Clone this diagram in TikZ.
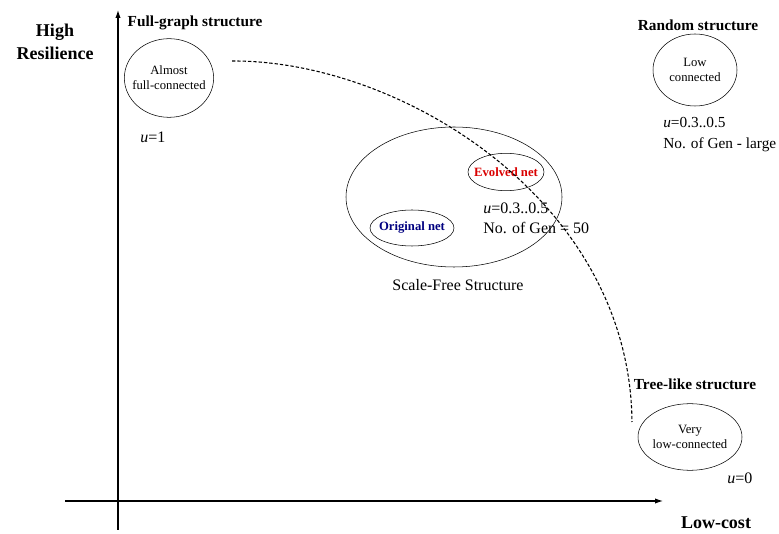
\documentclass[tikz,border=0pt]{standalone}
\usepackage{fontspec}
\setmainfont{Liberation Serif}
\usetikzlibrary{shapes.geometric,arrows.meta}

\begin{document}
\begin{tikzpicture}[x=0.75pt,y=-0.75pt,
    title/.style={font=\bfseries\fontsize{11.5}{13}\selectfont},
    axislab/.style={font=\bfseries\fontsize{13.5}{17}\selectfont},
    net/.style={draw,ellipse,inner sep=0pt},
    nettext/.style={align=center,inner sep=0pt,font=\fontsize{9.5}{11.5}\selectfont},
    note/.style={align=left,anchor=north west,inner sep=0pt,font=\fontsize{12}{15.5}\selectfont}]
        \useasboundingbox (0,0) rectangle (779,534);
        % 坐标轴
        \coordinate (ybot) at (118,530);
        \coordinate (ytop) at (118,10);
        \coordinate (xleft) at (65,501);
        \coordinate (xright) at (663,501);
        \draw[-{Latex[length=6pt,width=4pt]}, thick] (ybot) -- (ytop);
        \draw[-{Latex[length=6pt,width=4pt]}, thick] (xleft) -- (xright);
        \node[axislab, align=center] (hr) at (55,42) {High\\Resilience};
        \node[axislab] (lc) at (716,523) {Low-cost};
        % 四种结构
        \node[title] (fg) at (195,23) {Full-graph structure};
        \node[net, minimum width=67pt, minimum height=59pt,
              label={[nettext]center:{Almost\\full-connected}}] (full) at (169,78) {};
        \node[note] (u1) at (140,132) {\textit{u}=1};
        \node[title] (rs) at (698,25) {Random structure};
        \node[net, minimum width=63pt, minimum height=54pt,
              label={[nettext]center:{Low\\connected}}] (rand) at (695,70) {};
        \node[note, font=\fontsize{11.5}{15.5}\selectfont] (urand) at (663,117) {\textit{u}=0.3..0.5\\No. of Gen - large};
        \node[title] (tl) at (695,384) {Tree-like structure};
        \node[net, minimum width=78pt, minimum height=50pt,
              label={[nettext]center:{Very\\low-connected}}] (tree) at (690,437) {};
        \node[note] (u0) at (727,473) {\textit{u}=0};
        % 无标度结构
        \node[net, minimum width=162pt, minimum height=105pt] (sf) at (454,197) {};
        \node[font=\fontsize{12}{14}\selectfont] (sflab) at (458,285) {Scale-Free Structure};
        \node[net, minimum width=57pt, minimum height=28pt,
              label={[nettext, text=red!85!black, font=\bfseries\fontsize{9.5}{11}\selectfont]center:Evolved net}] (evo) at (506,172) {};
        \node[net, minimum width=63pt, minimum height=27pt,
              label={[nettext, text=blue!50!black, font=\bfseries\fontsize{9.5}{11}\selectfont]center:Original net}] (orig) at (412,228) {};
        \node[note, font=\fontsize{12}{14.5}\selectfont] (usf) at (483,203) {\textit{u}=0.3..0.5\\No. of Gen = 50};
        % 虚线
        \coordinate (cs) at (232,61);
        \coordinate (ce) at (632,422);
        \draw[line width=0.8pt, dash pattern=on 2.5pt off 1.5pt] (cs) .. controls (400,60) and (630,200) .. (ce);
    \end{tikzpicture}
\end{document}
